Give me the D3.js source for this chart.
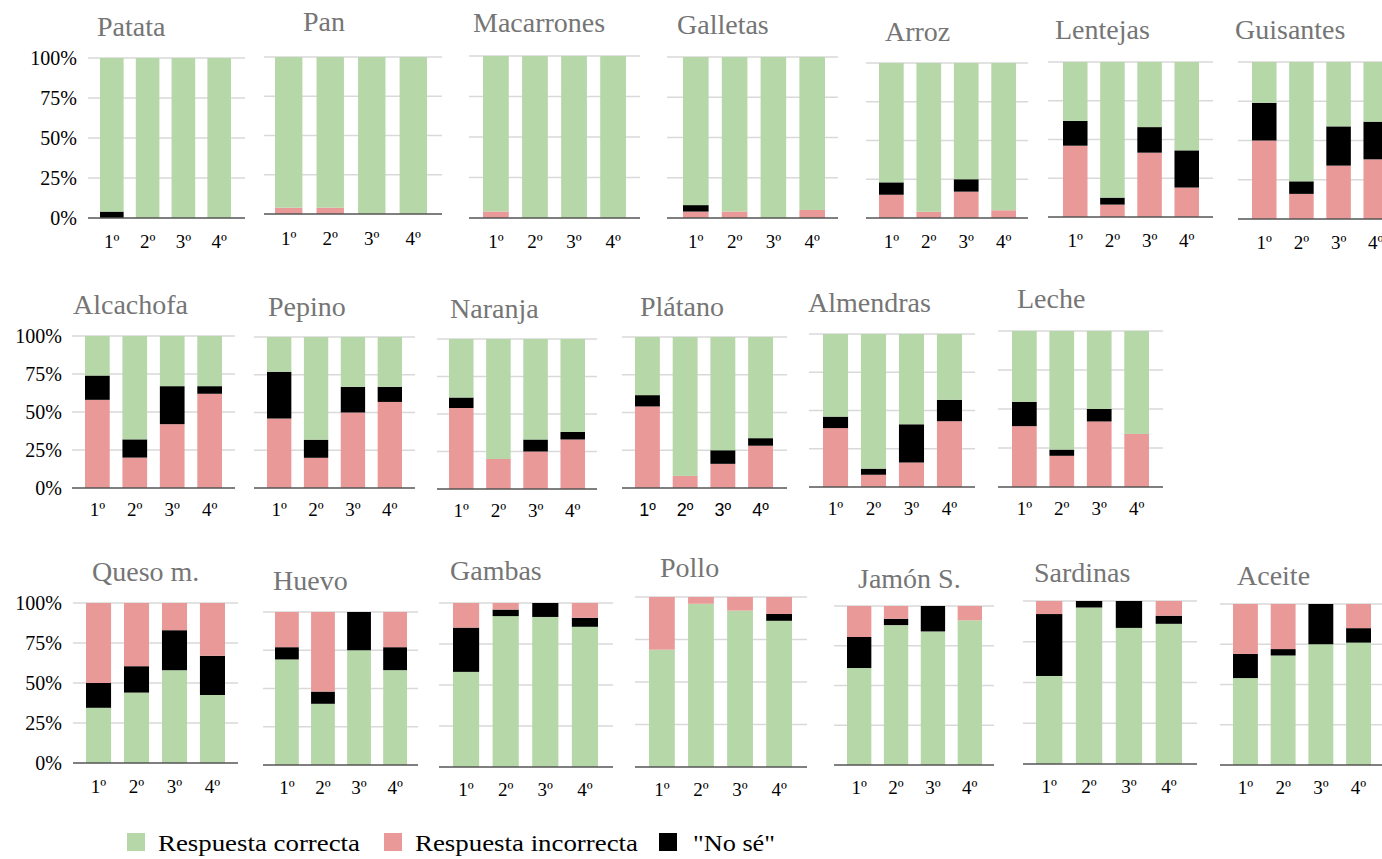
<!DOCTYPE html>
<html>
<head>
<meta charset="utf-8">
<script src="https://cdn.jsdelivr.net/npm/d3@7"></script>
<style>
  html, body { margin: 0; padding: 0; background: #fff; }
  svg { display: block; }
</style>
</head>
<body>
<svg id="chart" width="1382" height="859"></svg>
<script>
// ---------------- DATA ----------------
const grades = ["1º", "2º", "3º", "4º"];
const foods = ["Patata", "Pan", "Macarrones", "Galletas", "Arroz", "Lentejas", "Guisantes",
               "Alcachofa", "Pepino", "Naranja", "Plátano", "Almendras", "Leche",
               "Queso m.", "Huevo", "Gambas", "Pollo", "Jamón S.", "Sardinas", "Aceite"];
// percentages per grade (1º..4º)
const correcta = [
  [96, 100, 100, 100], [96, 96, 100, 100], [96, 100, 100, 100], [92, 96, 100, 95],
  [77, 96, 75, 95], [38, 87.5, 42, 57], [26, 76, 41, 38],
  [26, 68, 33, 33], [23, 68, 33, 33], [39, 80, 67, 62], [38.5, 92, 75, 67],
  [54, 88, 59, 43], [45.5, 76, 50, 66],
  [34.5, 44, 58, 42.5], [69, 40, 75, 62], [58, 92, 91.5, 85.5], [69, 96, 92, 86],
  [61, 88, 84, 91], [54, 96, 83.5, 86], [54, 68, 75, 76]
];
const incorrecta = [
  [0, 0, 0, 0], [4, 4, 0, 0], [4, 0, 0, 0], [4, 4, 0, 5],
  [15, 4, 17, 5], [46, 8, 41.5, 19], [50, 16, 34, 38],
  [58, 20, 42, 62], [46, 20, 50, 57], [54, 20, 25, 33], [54, 8, 16, 28],
  [38.5, 8, 16, 43], [39, 20, 42, 34],
  [50, 39.5, 17, 33], [23, 52, 0, 23], [15, 4, 0, 9], [31, 4, 8, 10],
  [19.5, 8, 0, 9], [8, 0, 0, 9], [31, 28, 0, 15]
];
const noSe = [
  [4, 0, 0, 0], [0, 0, 0, 0], [0, 0, 0, 0], [4, 0, 0, 0],
  [8, 0, 8, 0], [16, 4.5, 16.5, 24], [24, 8, 25, 24],
  [16, 12, 25, 5], [31, 12, 17, 10], [7, 0, 8, 5], [7.5, 0, 9, 5],
  [7.5, 4, 25, 14], [15.5, 4, 8, 0],
  [15.5, 16.5, 25, 24.5], [8, 8, 25, 15], [27, 4, 8.5, 5.5], [0, 0, 0, 4],
  [19.5, 4, 16, 0], [38, 4, 16.5, 5], [15, 4, 25, 9]
];
const yTicks = [0, 25, 50, 75, 100];
const seriesNames = ["Respuesta correcta", "Respuesta incorrecta", "\"No sé\""];

// ---------------- LAYOUT (positions of each small panel) ----------------
const layout = [
  {gx0: 88, gx1: 245, bx0: 100, bx1: 231, top: 58, bottom: 218, tx: 97, ty: 36, lab: 30, yAxis: 77},
  {gx0: 264, gx1: 442, bx0: 275, bx1: 427, top: 57, bottom: 214, tx: 303, ty: 31, lab: 31},
  {gx0: 469, gx1: 640, bx0: 483, bx1: 626, top: 56, bottom: 218, tx: 473, ty: 32, lab: 30},
  {gx0: 667, gx1: 838, bx0: 683, bx1: 825, top: 57, bottom: 218, tx: 677, ty: 34, lab: 30},
  {gx0: 866, gx1: 1028, bx0: 879, bx1: 1016, top: 63, bottom: 218, tx: 885, ty: 41, lab: 30},
  {gx0: 1048, gx1: 1213, bx0: 1063, bx1: 1199, top: 62, bottom: 217, tx: 1055, ty: 39, lab: 30},
  {gx0: 1238, gx1: 1400, bx0: 1252, bx1: 1388, top: 62, bottom: 219, tx: 1235, ty: 39, lab: 30},

  {gx0: 72, gx1: 235, bx0: 85, bx1: 222, top: 336, bottom: 488, tx: 73, ty: 314, lab: 28, yAxis: 62},
  {gx0: 254, gx1: 415, bx0: 267, bx1: 402, top: 337, bottom: 488, tx: 268, ty: 316, lab: 28},
  {gx0: 437, gx1: 597, bx0: 449, bx1: 585, top: 339, bottom: 489, tx: 450, ty: 318, lab: 28},
  {gx0: 622, gx1: 787, bx0: 635, bx1: 773, top: 337, bottom: 488, tx: 640, ty: 316, lab: 28, sans: true},
  {gx0: 809, gx1: 975, bx0: 823, bx1: 962, top: 334, bottom: 487, tx: 808, ty: 312, lab: 28},
  {gx0: 998, gx1: 1163, bx0: 1012, bx1: 1149, top: 331, bottom: 487, tx: 1017, ty: 308, lab: 28},

  {gx0: 73, gx1: 238, bx0: 86, bx1: 225, top: 603, bottom: 763, tx: 92, ty: 581, lab: 30, yAxis: 62, greenFirst: true},
  {gx0: 263, gx1: 418, bx0: 275, bx1: 407, top: 612, bottom: 765, tx: 273, ty: 590, lab: 29, greenFirst: true},
  {gx0: 439, gx1: 613, bx0: 453, bx1: 598, top: 603, bottom: 767, tx: 450, ty: 580, lab: 29, greenFirst: true},
  {gx0: 635, gx1: 807, bx0: 649, bx1: 792, top: 597, bottom: 767, tx: 660, ty: 577, lab: 29, greenFirst: true},
  {gx0: 834, gx1: 994, bx0: 847, bx1: 982, top: 606, bottom: 765, tx: 858, ty: 588, lab: 29, greenFirst: true},
  {gx0: 1023, gx1: 1197, bx0: 1036, bx1: 1182, top: 601, bottom: 764, tx: 1034, ty: 582, lab: 29, greenFirst: true},
  {gx0: 1220, gx1: 1400, bx0: 1233, bx1: 1371, top: 604, bottom: 765, tx: 1237, ty: 585, lab: 29, greenFirst: true}
];

const colors = {correcta: "#b6d7a8", incorrecta: "#ea9999", nose: "#000000"};
const serif = "Liberation Serif";
const sans = "Liberation Sans";

const svg = d3.select("#chart");

foods.forEach((food, i) => {
  const L = layout[i];
  const g = svg.append("g");
  const x = d3.scaleBand().domain(grades).range([L.bx0, L.bx1]).paddingInner(0.34).paddingOuter(0);
  const y = d3.scaleLinear().domain([0, 100]).range([L.bottom, L.top]);

  // gridlines
  g.selectAll("line.grid").data(yTicks.filter(t => t > 0)).enter().append("line")
    .attr("x1", L.gx0).attr("x2", L.gx1)
    .attr("y1", d => y(d)).attr("y2", d => y(d))
    .attr("stroke", "#d9d9d9").attr("stroke-width", 1.3);

  const rows = grades.map((gr, j) => ({
    grade: gr,
    correcta: correcta[i][j],
    incorrecta: incorrecta[i][j],
    nose: noSe[i][j]
  }));
  const keys = L.greenFirst ? ["correcta", "nose", "incorrecta"] : ["incorrecta", "nose", "correcta"];
  const stacked = d3.stack().keys(keys)(rows);

  g.selectAll("g.layer").data(stacked).enter().append("g")
    .attr("fill", d => colors[d.key])
    .selectAll("rect").data(d => d).enter().append("rect")
    .attr("x", d => x(d.data.grade))
    .attr("width", x.bandwidth())
    .attr("y", d => y(d[1]))
    .attr("height", d => Math.max(0, y(d[0]) - y(d[1])));

  // baseline
  g.append("line")
    .attr("x1", L.gx0).attr("x2", L.gx1)
    .attr("y1", y(0)).attr("y2", y(0))
    .attr("stroke", "#555").attr("stroke-width", 1.5);

  // x tick labels
  g.selectAll("text.xl").data(grades).enter().append("text")
    .attr("x", d => x(d) + x.bandwidth() / 2)
    .attr("y", L.bottom + L.lab)
    .attr("text-anchor", "middle")
    .attr("font-family", L.sans ? sans : serif)
    .attr("font-size", L.sans ? 18 : 19)
    .attr("fill", "#000")
    .text(d => d);

  // y tick labels
  if (L.yAxis) {
    g.selectAll("text.yl").data(yTicks).enter().append("text")
      .attr("x", L.yAxis)
      .attr("y", d => y(d))
      .attr("dy", "0.35em")
      .attr("text-anchor", "end")
      .attr("font-family", serif)
      .attr("font-size", 20)
      .attr("fill", "#000")
      .text(d => d + "%");
  }

  // title
  g.append("text")
    .attr("x", L.tx).attr("y", L.ty)
    .attr("font-family", serif)
    .attr("font-size", 28)
    .attr("fill", "#757575")
    .text(food);
});

// legend
const legendKeys = ["correcta", "incorrecta", "nose"];
const legendPos = [{sx: 127, tx: 158, tl: 202}, {sx: 384, tx: 415, tl: 223}, {sx: 659, tx: 693, tl: 82}];
const leg = svg.append("g");
legendKeys.forEach((k, i) => {
  leg.append("rect")
    .attr("x", legendPos[i].sx).attr("y", 833)
    .attr("width", 18).attr("height", 18)
    .attr("fill", colors[k]);
  leg.append("text")
    .attr("x", legendPos[i].tx).attr("y", 851)
    .attr("font-family", serif)
    .attr("font-size", 24)
    .attr("textLength", legendPos[i].tl)
    .attr("lengthAdjust", "spacingAndGlyphs")
    .attr("fill", "#000")
    .text(seriesNames[i]);
});
</script>
</body>
</html>
